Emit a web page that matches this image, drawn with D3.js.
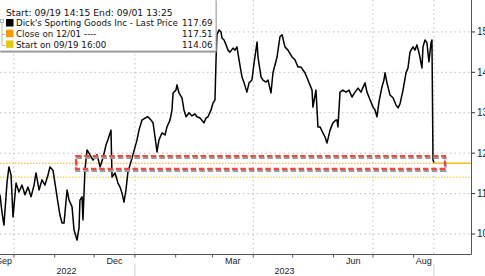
<!DOCTYPE html>
<html>
<head>
<meta charset="utf-8">
<script src="https://cdn.jsdelivr.net/npm/d3@7"></script>
<style>
  html, body { margin: 0; padding: 0; background: #fff; }
  svg { display: block; font-family: "Liberation Sans", Arial, sans-serif; }
  .legend text { font-family: "DejaVu Sans", sans-serif; }
</style>
</head>
<body>
<svg id="chart" width="485" height="276"></svg>
<script>
// days since 2022-09-19 for each reading, and the last price at that point
const days = [1.4, 2.9, 4.4, 6.7, 8.2, 9.8, 11.3, 13.6, 15.8, 18.1, 20.4, 22.7, 25.0, 27.3, 28.8, 31.1, 33.3, 35.6, 37.9, 39.4,
  41.7, 43.2, 45.5, 47.0, 48.6, 50.1, 52.4, 53.9, 56.2, 57.7, 60.0, 61.5, 62.2, 63.8, 64.5, 66.0, 67.6, 69.8, 72.1, 75.2,
  77.5, 79.7, 82.0, 83.5, 85.8, 86.6, 88.9, 91.1, 92.7, 94.2, 95.7, 97.2, 98.7, 100.3, 102.5, 104.1, 105.6, 107.1, 109.4, 111.7,
  113.9, 116.2, 117.8, 119.3, 120.8, 122.3, 124.6, 126.9, 128.4, 130.7, 132.2, 133.0, 135.2, 136.0, 137.5, 139.8, 141.3, 142.9, 145.1, 147.4,
  149.7, 151.2, 153.5, 156.5, 158.1, 159.6, 161.9, 163.4, 164.9, 165.7, 166.4, 168.0, 169.5, 170.2, 171.8, 173.3, 174.8, 176.3, 178.6, 180.1,
  181.6, 183.2, 185.4, 187.0, 189.2, 190.8, 193.0, 194.6, 196.9, 197.6, 199.9, 201.4, 203.7, 205.2, 207.5, 209.0, 212.1, 214.3, 215.9, 218.1,
  220.4, 223.5, 225.7, 228.0, 230.3, 233.3, 235.6, 238.7, 239.4, 241.7, 243.2, 244.8, 247.0, 248.6, 250.1, 252.4, 254.6, 256.9, 257.7, 258.4,
  260.0, 262.2, 264.5, 266.8, 269.1, 271.4, 273.7, 275.9, 279.0, 280.5, 282.8, 285.1, 286.6, 288.1, 289.6, 291.9, 293.4, 294.2, 295.7, 298.0,
  300.3, 302.6, 304.1, 305.6, 307.9, 310.2, 311.7, 313.2, 315.5, 317.0, 318.5, 320.1, 322.3, 323.1, 324.6, 326.1, 327.6, 329.2, 329.9, 330.7, 331.4];
const prices = [109.7, 105.4, 102.2, 112.6, 116.6, 114.6, 104.2, 112.6, 110.4, 112.1, 109.7, 111.6, 109.2, 112.1, 115.1, 110.9, 113.4, 112.1, 114.6, 116.6,
  115.8, 112.6, 107.7, 104.7, 102.7, 102.7, 110.9, 108.4, 106.7, 101.0, 98.5, 101.5, 108.4, 109.2, 103.5, 115.8, 120.8, 119.6, 118.3, 119.6,
  116.6, 118.8, 122.0, 123.3, 125.7, 114.1, 115.1, 112.6, 111.6, 110.1, 107.9, 110.9, 115.3, 117.1, 119.6, 121.5, 123.3, 125.7, 128.2, 128.7,
  129.0, 128.2, 127.5, 124.0, 120.3, 123.3, 125.0, 124.5, 126.5, 128.2, 130.7, 134.9, 135.6, 136.9, 134.9, 133.7, 130.7, 129.0, 130.0, 129.2,
  129.7, 129.0, 128.7, 127.5, 128.7, 129.0, 130.7, 132.4, 133.2, 143.1, 149.3, 150.5, 150.0, 148.5, 148.0, 146.8, 145.5, 145.0, 146.0, 145.5,
  146.3, 143.1, 138.9, 137.4, 135.1, 137.4, 138.1, 142.3, 147.5, 143.8, 138.9, 138.1, 137.6, 138.1, 134.9, 139.9, 143.8, 148.8, 149.3, 146.3,
  145.5, 143.8, 143.1, 141.3, 141.3, 139.9, 138.1, 135.6, 131.4, 135.6, 126.5, 126.5, 125.0, 124.0, 122.5, 125.7, 127.5, 128.2, 128.2, 126.5,
  135.1, 135.6, 135.1, 135.6, 133.9, 135.1, 136.1, 135.1, 137.4, 135.1, 133.2, 131.4, 130.7, 129.0, 132.7, 136.4, 138.1, 139.9, 137.4, 134.4,
  133.7, 131.9, 131.2, 132.2, 135.6, 139.9, 141.1, 145.0, 146.3, 145.5, 146.8, 144.8, 141.1, 146.3, 148.0, 147.3, 142.6, 147.3, 148.0, 118.3, 117.7];

const yTicks = [100, 110, 120, 130, 140, 150];
const monthLabels = [["2022-09", "Sep"], ["2022-12", "Dec"], ["2023-03", "Mar"], ["2023-06", "Jun"], ["2023-08", "Aug"]];
const yearLabels = ["2022", "2023"];

const lastPrice = 117.69;
const closeLevel = 117.51;
const startLevel = 114.06;
// highlighted band (dashed box): day range and price range
const boxDays = [59.2, 339.8];
const boxPrices = [116.1, 119.3];

const legendTitle = "Start: 09/19 14:15 End: 09/01 13:25";
const legendRows = [
  { label: "Dick's Sporting Goods Inc - Last Price", value: lastPrice, color: "#000000" },
  { label: "Close on 12/01 ----", value: closeLevel, color: "#f59a00" },
  { label: "Start on 09/19 16:00", value: startLevel, color: "#e6c81a" }
];

const startDate = new Date(2022, 8, 19);
const dayOf = dt => d3.timeDay.count(startDate, dt);

const svg = d3.select("#chart");
const W = 471, H = 254;

const x = d3.scaleLinear().domain([1.4, 359.6]).range([0, W]);
const y = d3.scaleLinear().domain([95.05, 157.9]).range([H, 0]);

const lastDay = days[days.length - 1];
const firstDay = -3;

// horizontal grid
svg.append("g").selectAll("line")
  .data(yTicks).enter().append("line")
  .attr("x1", 0).attr("x2", W)
  .attr("y1", d => y(d)).attr("y2", d => y(d))
  .attr("stroke", "#bdbdbd").attr("stroke-width", 1)
  .attr("stroke-dasharray", "1.5,3");

// month ticks & quarterly grid
const months = d3.timeMonth.range(d3.timeMonth.ceil(startDate), d3.timeDay.offset(startDate, Math.ceil(lastDay)));
const gridDays = months.filter(m => m.getMonth() % 3 === 0).map(dayOf).concat([lastDay]);

svg.append("g").selectAll("line")
  .data(gridDays).enter().append("line")
  .attr("x1", d => x(d)).attr("x2", d => x(d))
  .attr("y1", 0).attr("y2", H)
  .attr("stroke", "#bdbdbd").attr("stroke-width", 1)
  .attr("stroke-dasharray", "1.5,3");

// reference levels
svg.append("line")
  .attr("x1", 0).attr("x2", W)
  .attr("y1", y(closeLevel)).attr("y2", y(closeLevel))
  .attr("stroke", "#f5a623").attr("stroke-width", 1).attr("stroke-dasharray", "1.5,1.5");
svg.append("line")
  .attr("x1", 0).attr("x2", W)
  .attr("y1", y(startLevel)).attr("y2", y(startLevel))
  .attr("stroke", "#e6c81a").attr("stroke-width", 1).attr("stroke-dasharray", "1.5,1.5");
svg.append("line")
  .attr("x1", x(lastDay)).attr("x2", W)
  .attr("y1", y(closeLevel)).attr("y2", y(closeLevel))
  .attr("stroke", "#f2c030").attr("stroke-width", 1.3);

// price line
const line = d3.line()
  .x((d, i) => x(days[i]))
  .y(d => y(d));

svg.append("path")
  .datum(prices)
  .attr("fill", "none")
  .attr("stroke", "#000")
  .attr("stroke-width", 1.5)
  .attr("stroke-linejoin", "round")
  .attr("d", line);

// dashed highlight box with shadow
const bx = x(boxDays[0]), bw = x(boxDays[1]) - x(boxDays[0]);
const by = y(boxPrices[1]), bh = y(boxPrices[0]) - y(boxPrices[1]);
svg.append("rect")
  .attr("x", bx + 0.5).attr("y", by + 1.8).attr("width", bw).attr("height", bh)
  .attr("fill", "none").attr("stroke", "#9a9a9a").attr("stroke-width", 2.4)
  .attr("stroke-dasharray", "5.5,2.8");
svg.append("rect")
  .attr("x", bx).attr("y", by).attr("width", bw).attr("height", bh)
  .attr("fill", "none").attr("stroke", "#ec4a3f").attr("stroke-width", 2.2)
  .attr("stroke-dasharray", "5.5,2.8");

// axes frame
svg.append("line").attr("x1", W + 0.5).attr("x2", W + 0.5).attr("y1", 0).attr("y2", H + 0.5)
  .attr("stroke", "#555").attr("stroke-width", 1);
svg.append("line").attr("x1", 0).attr("x2", W + 0.5).attr("y1", H + 0.5).attr("y2", H + 0.5)
  .attr("stroke", "#555").attr("stroke-width", 1);

// right axis
const yAxis = svg.append("g");
yAxis.selectAll("line").data(yTicks).enter().append("line")
  .attr("x1", W).attr("x2", W + 4)
  .attr("y1", d => y(d)).attr("y2", d => y(d))
  .attr("stroke", "#333");
yAxis.selectAll("text").data(yTicks).enter().append("text")
  .attr("x", W + 6).attr("y", d => y(d)).attr("dy", "0.35em")
  .attr("font-size", 10).attr("fill", "#222")
  .text(d => d);

// bottom axis ticks
svg.append("g").selectAll("line")
  .data(months.map(dayOf)).enter().append("line")
  .attr("x1", d => x(d)).attr("x2", d => x(d))
  .attr("y1", H).attr("y2", H + 3.5)
  .attr("stroke", "#555");

// year separators
const yearStarts = [dayOf(new Date(2023, 0, 1)), lastDay];
svg.append("g").selectAll("line")
  .data(yearStarts).enter().append("line")
  .attr("x1", d => x(d)).attr("x2", d => x(d))
  .attr("y1", 264).attr("y2", 276)
  .attr("stroke", "#cfcfcf");

// month labels centred on the visible part of each month
svg.append("g").selectAll("text")
  .data(monthLabels).enter().append("text")
  .attr("x", d => {
    const m = d3.timeParse("%Y-%m")(d[0]);
    const a = Math.max(firstDay, dayOf(m));
    const b = Math.min(lastDay, dayOf(d3.timeMonth.offset(m, 1)));
    return x((a + b) / 2);
  })
  .attr("y", 263.5)
  .attr("text-anchor", "middle")
  .attr("font-size", 9).attr("fill", "#222")
  .text(d => d[1]);

svg.append("g").selectAll("text")
  .data(yearLabels).enter().append("text")
  .attr("x", d => {
    const a = Math.max(0, dayOf(new Date(+d, 0, 1)));
    const b = Math.min(lastDay, dayOf(new Date(+d + 1, 0, 1)));
    return x((a + b) / 2);
  })
  .attr("y", 273.5)
  .attr("text-anchor", "middle")
  .attr("font-size", 9).attr("fill", "#222")
  .text(d => d);

// legend
const lg = svg.append("g").attr("class", "legend");
lg.append("rect").attr("x", 0.5).attr("y", 1).attr("width", 216).attr("height", 51.5)
  .attr("fill", "#8a8a8a");
lg.append("rect").attr("x", -1).attr("y", -1).attr("width", 217).attr("height", 52)
  .attr("fill", "#fff").attr("stroke", "#a8a8a8").attr("stroke-width", 1);
lg.append("text").attr("x", 6).attr("y", 16)
  .attr("font-size", 9.2).attr("fill", "#111").text(legendTitle);

// tree connector
lg.append("rect").attr("x", 0.5).attr("y", 19.5).attr("width", 3).attr("height", 3)
  .attr("fill", "none").attr("stroke", "#aaa").attr("stroke-width", 0.8);
lg.append("path").attr("d", "M2,23V45.5H5M2,34.5H5")
  .attr("fill", "none").attr("stroke", "#aaa").attr("stroke-width", 0.8);

const rows = lg.selectAll(".row").data(legendRows).enter().append("g")
  .attr("transform", (d, i) => `translate(0,${23 + i * 10.7})`);
rows.append("rect").attr("x", 6).attr("y", -4).attr("width", 7.5).attr("height", 7.5)
  .attr("fill", d => d.color);
rows.append("text").attr("x", 16).attr("y", 3.4)
  .attr("font-size", 8.7).attr("fill", "#111").text(d => d.label);
rows.append("text").attr("x", 212.5).attr("y", 3.4).attr("text-anchor", "end")
  .attr("font-size", 8.7).attr("fill", "#111").text(d => d.value.toFixed(2));
</script>
</body>
</html>
